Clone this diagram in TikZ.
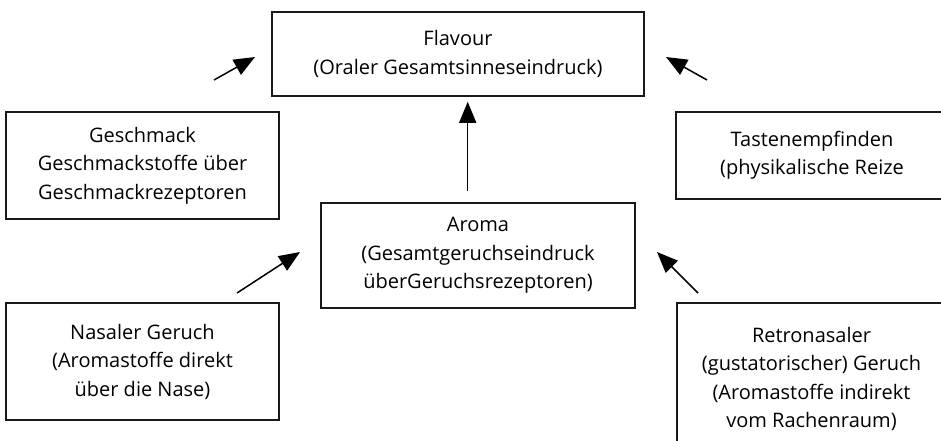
\documentclass[tikz,border=0pt]{standalone}
\usepackage{fontspec}
\setmainfont{Open Sans}
\usetikzlibrary{arrows.meta}

\begin{document}
\begin{tikzpicture}[x=1pt,y=-1pt,
      box_node/.style={
         draw=black!90,
         line width=1.6pt,
         align=center,
         inner sep=0pt,
         text=black,
         font=\fontsize{20}{28.5}\selectfont},
      arrow_black/.style={
         -{Triangle[length=21pt,width=17pt]},
         line width=1.5pt}
]
      \useasboundingbox (0,0) rectangle (941,441);

      %top
      \node[box_node,minimum width=372pt,minimum height=84pt] (flavour) at (458,54)
         {Flavour\\(Oraler Gesamtsinneseindruck)};

      %middle row
      \node[box_node,minimum width=273pt,minimum height=107pt] (geschmack) at (142.5,165.5)
         {Geschmack\\Geschmackstoffe über\\Geschmackrezeptoren};
      \node[box_node,minimum width=272pt,minimum height=87pt] (tasten) at (812,155.5)
         {Tastenempfinden\\(physikalische Reize};
      \node[box_node,minimum width=314pt,minimum height=105pt] (aroma) at (478,255.5)
         {Aroma\\(Gesamtgeruchseindruck\\überGeruchsrezeptoren)};

      %bottom row
      \node[box_node,minimum width=273pt,minimum height=117pt] (nasal) at (142.5,361.5)
         {Nasaler Geruch\\(Aromastoffe direkt\\über die Nase)};
      \node[box_node,minimum width=269pt,minimum height=152pt] (retro) at (811.5,379)
         {Retronasaler\\(gustatorischer) Geruch\\(Aromastoffe indirekt\\vom Rachenraum)};

      %free arrow ends
      \coordinate (g_tail) at (214,80);  \coordinate (g_tip) at (255,57);
      \coordinate (t_tail) at (707,80);  \coordinate (t_tip) at (666,57);
      \coordinate (n_tail) at (237,293); \coordinate (n_tip) at (300,252);
      \coordinate (r_tail) at (698,293); \coordinate (r_tip) at (657,252);

      \draw[arrow_black,shorten <=11pt,shorten >=5pt]
         ([xshift=-10.3pt]aroma.north) -- ([xshift=9.7pt]flavour.south);
      \foreach \i/\j in {g_tail/g_tip, t_tail/t_tip, n_tail/n_tip, r_tail/r_tip}
         \draw[arrow_black] (\i) -- (\j);
\end{tikzpicture}
\end{document}
